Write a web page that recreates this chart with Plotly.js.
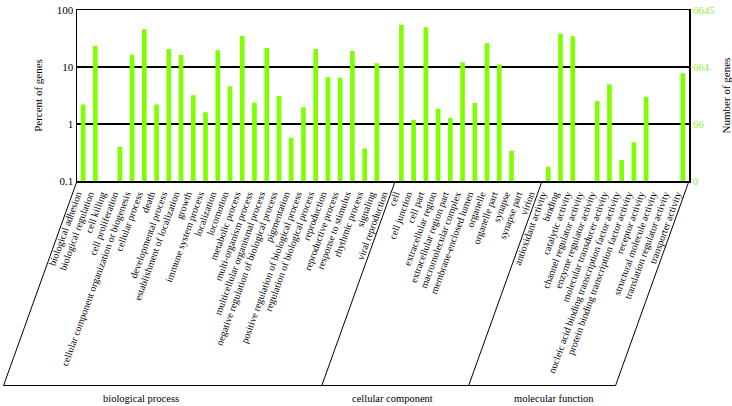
<!DOCTYPE html>
<html>
<head>
<meta charset="utf-8">
<script src="https://cdn.plot.ly/plotly-3.0.1.min.js"></script>
<style>
  html, body { margin: 0; padding: 0; background: #fff; }
  #plot { width: 732px; height: 406px; }
</style>
</head>
<body>
<div id="plot"></div>
<script>
// GO terms, grouped by ontology
let bioProcess = [
  "biological adhesion", "biological regulation", "cell killing", "cell proliferation",
  "cellular component organization or biogenesis", "cellular process", "death",
  "developmental process", "establishment of localization", "growth",
  "immune system process", "localization", "locomotion", "metabolic process",
  "multi-organism process", "multicellular organismal process",
  "negative regulation of biological process", "pigmentation",
  "positive regulation of biological process", "regulation of biological process",
  "reproduction", "reproductive process", "response to stimulus", "rhythmic process",
  "signaling", "viral reproduction"
];
let cellComponent = [
  "cell", "cell junction", "cell part", "extracellular region", "extracellular region part",
  "macromolecular complex", "membrane-enclosed lumen", "organelle", "organelle part",
  "synapse", "synapse part", "virion"
];
let molFunction = [
  "antioxidant activity", "binding", "catalytic activity", "channel regulator activity",
  "enzyme regulator activity", "molecular transducer activity",
  "nucleic acid binding transcription factor activity",
  "protein binding transcription factor activity", "receptor activity",
  "structural molecule activity", "translation regulator activity", "transporter activity"
];

// percent of genes, null = no visible bar
let bpPercent = [2.2, 23.6, null, 0.40, 16.4, 45.8, 2.2, 20.7, 16.2, 3.2, 1.6, 19.6, 4.6,
  35, 2.37, 21.5, 3.1, 0.575, 1.96, 20.7, 6.6, 6.5, 19.1, 0.37, 11.6, null];
let ccPercent = [55.3, 1.17, 49.7, 1.86, 1.27, 12.1, 2.33, 26, 11.1, 0.34, null, null];
let mfPercent = [0.178, 38.4, 34.5, null, 2.53, 4.97, 0.233, 0.48, 2.98, null, null, 7.75];

// axis ticks
let leftTicks = [0.1, 1, 10, 100];
let leftText = ["0.1", "1", "10", "100"];
let rightText = ["0", "66", "664", "6645"];

let groupNames = ["biological process", "cellular component", "molecular function"];
let groupLabelX = [0.105, 0.515, 0.78];   // paper x of the group captions
let groups = [bioProcess, cellComponent, molFunction];

let categories = bioProcess.concat(cellComponent, molFunction);
let percents = bpPercent.concat(ccPercent, mfPercent);

let green = "#80ff00";
let serif = "Liberation Serif, Tinos, Times New Roman, Times, DejaVu Serif, Noto Serif, serif";

let trace1 = {
  x: categories,
  y: percents,
  type: "bar",
  marker: { color: green },
  hoverinfo: "x+y"
};

// invisible trace to carry the right-hand axis
let trace2 = {
  x: [categories[0]],
  y: [null],
  type: "scatter",
  yaxis: "y2",
  showlegend: false,
  hoverinfo: "skip"
};

// brackets below the tick labels, one per ontology (paper units so they are not clipped)
let n = categories.length;
let slant = 6 / n;     // horizontal run of the slanted lines
let bottomY = -1.196;
let shapes = [];
let annotations = [];
let count = 0;
let bounds = [0];
groups.forEach(function (g, i) {
  count += g.length;
  bounds.push(count / n);
  annotations.push({
    x: groupLabelX[i], xref: "paper", y: -1.27, yref: "paper",
    text: groupNames[i], showarrow: false,
    xanchor: "center", yanchor: "middle",
    font: { family: serif, size: 10.5, color: "#000" }
  });
});
bounds.forEach(function (b) {
  shapes.push({
    type: "line", xref: "paper", yref: "paper",
    x0: b, y0: 0, x1: b - slant, y1: bottomY,
    line: { color: "#000", width: 1 }
  });
});
shapes.push({
  type: "line", xref: "paper", yref: "paper",
  x0: -slant, y0: bottomY, x1: 1 - slant, y1: bottomY,
  line: { color: "#000", width: 1 }
});

let layout = {
  width: 732,
  height: 406,
  margin: { l: 77, r: 43, t: 10, b: 225 },
  paper_bgcolor: "#fff",
  plot_bgcolor: "#fff",
  showlegend: false,
  bargap: 0.62,
  font: { family: serif, size: 10, color: "#000" },
  xaxis: {
    type: "category",
    tickmode: "array",
    tickvals: categories,
    ticktext: categories,
    tickangle: -70,
    ticklabelshift: -6,
    ticklabelstandoff: 2,
    tickfont: { family: serif, size: 10, color: "#000" },
    showline: true,
    linecolor: "#000",
    linewidth: 1.5,
    mirror: true,
    ticks: "",
    automargin: false,
    range: [-0.5, n - 0.5]
  },
  yaxis: {
    type: "log",
    range: [-1, 2],
    tickvals: leftTicks,
    ticktext: leftText,
    tickfont: { family: serif, size: 11, color: "#000" },
    showgrid: true,
    gridcolor: "#000",
    gridwidth: 1.2,
    showline: true,
    linecolor: "#000",
    linewidth: 1.5,
    ticks: "",
    zeroline: false,
    automargin: false,
    title: { text: "Percent of genes", font: { family: serif, size: 11, color: "#000" }, standoff: 12 }
  },
  yaxis2: {
    type: "log",
    range: [-1, 2],
    overlaying: "y",
    side: "right",
    tickvals: leftTicks,
    ticktext: rightText,
    tickfont: { family: serif, size: 11, color: "#8cf040" },
    showgrid: false,
    showline: true,
    linecolor: "#000",
    linewidth: 1.5,
    ticks: "",
    zeroline: false,
    automargin: false,
    title: { text: "Number of genes", font: { family: serif, size: 11, color: "#000" }, standoff: 10 }
  },
  shapes: shapes,
  annotations: annotations
};

Plotly.newPlot("plot", [trace1, trace2], layout, { displayModeBar: false, staticPlot: true });
</script>
</body>
</html>
